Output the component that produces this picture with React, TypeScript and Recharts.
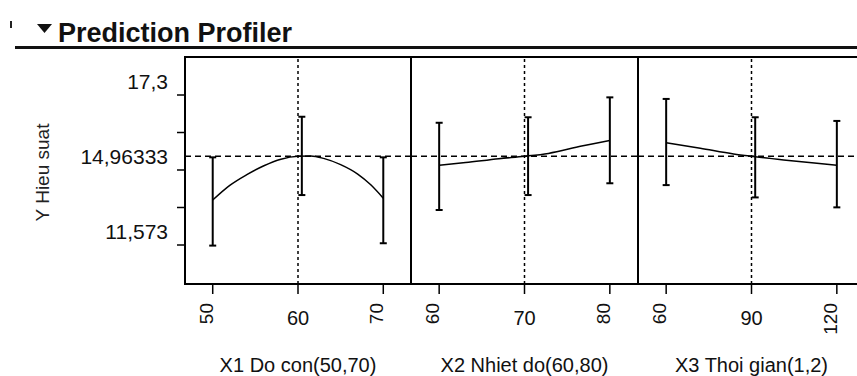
import React from 'react'
import {
  ComposedChart, Line, Scatter, ErrorBar, XAxis, YAxis, ReferenceLine, ReferenceArea
} from 'recharts'

// shared response axis
const Y_DOMAIN: [number, number] = [10.084, 18.751]
const Y_TICKS = [11.573, 13.005, 14.437, 14.96333, 15.868, 17.3]
const Y_LABEL_VALUES = [17.3, 14.96333, 11.573]
const Y_LABEL_TEXT = ['17,3', '14,96333', '11,573']
const CURRENT_Y = 14.96333

// X1 Do con
const x1Ticks = [50, 60, 70]
const x1CurveX = [50, 52, 54, 56, 58, 60, 61.5, 63, 65, 67, 68.5, 70]
const x1CurveY = [13.29, 13.85, 14.26, 14.6, 14.85, 14.96, 14.97, 14.88, 14.64, 14.28, 13.88, 13.36]
const x1BarX = [50, 60.45, 70]
const x1BarLo = [11.55, 13.48, 11.64]
const x1BarHi = [14.92, 16.47, 14.92]

// X2 Nhiet do
const x2Ticks = [60, 70, 80]
const x2CurveX = [60, 63.1, 67, 70, 72.8, 76.7, 80]
const x2CurveY = [14.62, 14.72, 14.87, 14.96, 15.07, 15.35, 15.56]
const x2BarX = [60, 70.42, 80]
const x2BarLo = [12.91, 13.48, 13.93]
const x2BarHi = [16.24, 16.45, 17.21]

// X3 Thoi gian
const x3Ticks = [60, 90, 120]
const x3CurveX = [60, 72, 83.7, 90, 101.3, 113, 120]
const x3CurveY = [15.48, 15.27, 15.05, 14.96, 14.82, 14.69, 14.62]
const x3BarX = [60, 91.3, 120]
const x3BarLo = [13.86, 13.39, 13.01]
const x3BarHi = [17.15, 16.45, 16.31]

const FONT = "Arial, 'Liberation Sans', Helvetica, sans-serif"

const toCurve = (xs: number[], ys: number[]) => xs.map((x, i) => ({ x, y: ys[i] }))
const toBars = (xs: number[], lo: number[], hi: number[]) =>
  xs.map((x, i) => {
    const half = (hi[i] - lo[i]) / 2
    return { x, y: (hi[i] + lo[i]) / 2, err: [half, half] }
  })

const YTick = ({ x, y, payload }: any) => {
  const v = payload.value
  const isCur = Math.abs(v - CURRENT_Y) < 1e-6
  const idx = Y_LABEL_VALUES.findIndex((l) => Math.abs(l - v) < 1e-6)
  return (
    <g>
      {!isCur && <line x1={x + 9} x2={x + 17} y1={y} y2={y} stroke="#000" strokeWidth={1.5} />}
      {idx >= 0 && (
        <text x={x} y={isCur ? y + 7.5 : y - 6} textAnchor="end" fontSize={21} fill="#111">
          {Y_LABEL_TEXT[idx]}
        </text>
      )}
    </g>
  )
}

const XTick = ({ x, y, payload, index }: any) => {
  const txt = String(payload.value)
  if (index === 1) {
    return <text x={x} y={y + 31} textAnchor="middle" fontSize={20} fill="#111">{txt}</text>
  }
  return (
    <text x={x} y={y + 9} textAnchor="end" fontSize={19} fill="#111"
      transform={`rotate(-90 ${x} ${y + 9})`}>{txt}</text>
  )
}

const YTitle = ({ viewBox }: any) => {
  const cx = viewBox.x - 36
  const cy = viewBox.y + viewBox.height / 2 + 2
  return (
    <text x={cx} y={cy} textAnchor="middle" fontSize={19} fill="#222"
      transform={`rotate(-90 ${cx} ${cy})`}>Y Hieu suat</text>
  )
}

interface PanelProps {
  left: number
  showY: boolean
  domain: [number, number]
  ticks: number[]
  curve: { x: number; y: number }[]
  bars: { x: number; y: number; err: number[] }[]
  current: number
  title: string
}

function Panel({ left, showY, domain, ticks, curve, bars, current, title }: PanelProps) {
  const width = showY ? 413 : 231
  return (
    <div style={{ position: 'absolute', left, top: 0 }}>
      <ComposedChart width={width} height={376}
        margin={{ top: 57, right: 2, bottom: 0, left: showY ? 85 : 2 }}>
        <XAxis type="number" dataKey="x" domain={domain} ticks={ticks} interval={0}
          allowDataOverflow height={92} tickSize={10} tickMargin={0}
          axisLine={{ stroke: '#000', strokeWidth: 2 }}
          tickLine={{ stroke: '#000', strokeWidth: 1.5 }}
          tick={<XTick />}
          label={{ value: title, position: 'insideBottom', offset: 4, fill: '#111', fontSize: 20 }} />
        <YAxis type="number" domain={Y_DOMAIN} allowDataOverflow hide={!showY} width={100}
          ticks={Y_TICKS} interval={0} tickLine={false} tickSize={8} tickMargin={9}
          axisLine={{ stroke: '#000', strokeWidth: 2 }} tick={<YTick />}
          label={{ content: <YTitle /> }} />
        <ReferenceArea x1={domain[0]} x2={domain[1]} y1={Y_DOMAIN[0]} y2={Y_DOMAIN[1]}
          fill="none" fillOpacity={0} stroke="#000" strokeWidth={2} ifOverflow="visible" />
        <ReferenceLine y={CURRENT_Y} stroke="#000" strokeDasharray="6 4" strokeWidth={1.5} />
        <ReferenceLine x={current} stroke="#000" strokeDasharray="3 3" strokeWidth={1.5} />
        <Line data={curve} dataKey="y" type="monotone" stroke="#000" strokeWidth={1.5}
          dot={false} isAnimationActive={false} />
        <Scatter data={bars} dataKey="y" shape={() => <g />} isAnimationActive={false}>
          <ErrorBar dataKey="err" direction="y" width={3.5} stroke="#000" strokeWidth={2}
            isAnimationActive={false} />
        </Scatter>
      </ComposedChart>
    </div>
  )
}

export default function App() {
  return (
    <div style={{
      position: 'fixed', left: 0, top: 0, width: 857, height: 376, overflow: 'hidden',
      background: '#fff', fontFamily: FONT
    }}>
      <svg width={857} height={60} style={{ position: 'absolute', left: 0, top: 0 }}>
        <rect x={10} y={21} width={2} height={7} fill="#222" />
        <polygon points="37,24 52,24 44.5,33" fill="#111" />
        <text x={58} y={42} fontSize={27} fontWeight="bold" fill="#111">Prediction Profiler</text>
        <rect x={15} y={46} width={842} height={3} fill="#111" />
      </svg>
      <Panel left={0} showY domain={[46.75, 73.25]} ticks={x1Ticks}
        curve={toCurve(x1CurveX, x1CurveY)} bars={toBars(x1BarX, x1BarLo, x1BarHi)}
        current={60} title="X1 Do con(50,70)" />
      <Panel left={409} showY={false} domain={[56.7, 83.3]} ticks={x2Ticks}
        curve={toCurve(x2CurveX, x2CurveY)} bars={toBars(x2BarX, x2BarLo, x2BarHi)}
        current={70} title="X2 Nhiet do(60,80)" />
      <Panel left={636} showY={false} domain={[50.1, 129.9]} ticks={x3Ticks}
        curve={toCurve(x3CurveX, x3CurveY)} bars={toBars(x3BarX, x3BarLo, x3BarHi)}
        current={90} title="X3 Thoi gian(1,2)" />
    </div>
  )
}
